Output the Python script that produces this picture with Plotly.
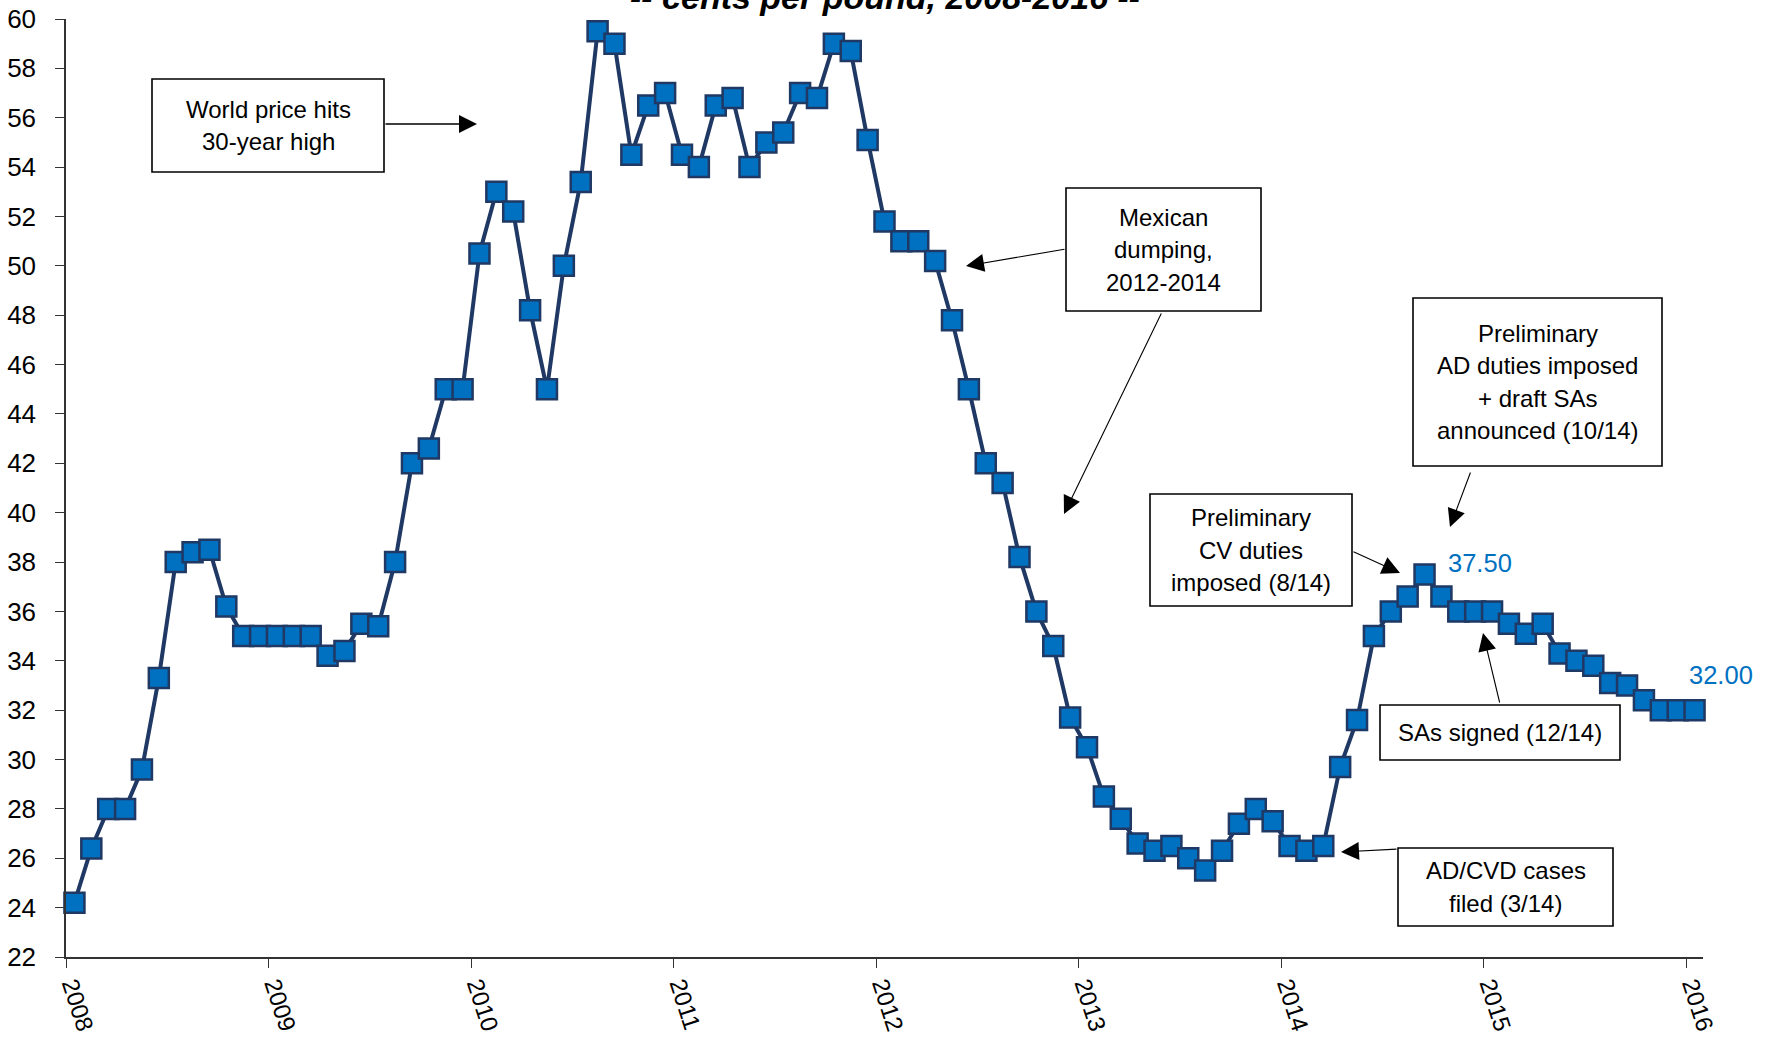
import plotly.graph_objects as go

# Monthly price, cents per pound (Jan 2008 - Jan 2016)
years = ["2008", "2009", "2010", "2011", "2012", "2013", "2014", "2015", "2016"]
price_2008 = [24.2, 26.4, 28.0, 28.0, 29.6, 33.3, 38.0, 38.4, 38.5, 36.2, 35.0, 35.0]
price_2009 = [35.0, 35.0, 35.0, 34.2, 34.4, 35.5, 35.4, 38.0, 42.0, 42.6, 45.0, 45.0]
price_2010 = [50.5, 53.0, 52.2, 48.2, 45.0, 50.0, 53.4, 59.5, 59.0, 54.5, 56.5, 57.0]
price_2011 = [54.5, 54.0, 56.5, 56.8, 54.0, 55.0, 55.4, 57.0, 56.8, 59.0, 58.7, 55.1]
price_2012 = [51.8, 51.0, 51.0, 50.2, 47.8, 45.0, 42.0, 41.2, 38.2, 36.0, 34.6, 31.7]
price_2013 = [30.5, 28.5, 27.6, 26.6, 26.3, 26.5, 26.0, 25.5, 26.3, 27.4, 28.0, 27.5]
price_2014 = [26.5, 26.3, 26.5, 29.7, 31.6, 35.0, 36.0, 36.6, 37.5, 36.6, 36.0, 36.0]
price_2015 = [36.0, 35.5, 35.1, 35.5, 34.3, 34.0, 33.8, 33.1, 33.0, 32.4, 32.0, 32.0]
price_2016 = [32.0]

# Points that carry a value label: (year, month number)
labeled_points = [("2014", 9), ("2016", 1)]

prices = (price_2008 + price_2009 + price_2010 + price_2011 + price_2012
          + price_2013 + price_2014 + price_2015 + price_2016)
n = len(prices)
# category axis: each month sits in the middle of its slot
xpos = [i + 0.5 for i in range(n)]

W, H = 1767, 1039
L, R, T, B = 66, 64, 19, 82
PW, PH = W - L - R, H - T - B

def px(xp):
    return (xp - L) / PW

def py(yp):
    return (H - B - yp) / PH

NAVY = "#1F3864"
BLUE = "#0070C0"
FONT = "Liberation Sans, Arial, sans-serif"

fig = go.Figure()
fig.add_trace(go.Scatter(
    x=xpos, y=prices, mode="lines+markers",
    line=dict(color=NAVY, width=4),
    marker=dict(symbol="square", size=20, color=BLUE,
                line=dict(color=NAVY, width=2.5)),
    cliponaxis=False, showlegend=False, hoverinfo="skip",
))

annotations = []
shapes = []

# value labels
for yr, mo in labeled_points:
    idx = years.index(yr) * 12 + (mo - 1)
    v = prices[idx]
    last = idx == n - 1
    annotations.append(dict(
        x=xpos[idx], y=v, xref="x", yref="y", text=f"{v:.2f}",
        showarrow=False, xanchor="left", yanchor="middle",
        xshift=-8 if last else 21, yshift=35 if last else 11,
        font=dict(family=FONT, size=25.5, color=BLUE),
    ))

# callout boxes: (left, top, right, bottom, lines)
boxes = [
    (152, 79, 384, 172, ["World price hits", "30-year high"]),
    (1066, 188, 1261, 311, ["Mexican", "dumping,", "2012-2014"]),
    (1413, 298, 1662, 466, ["Preliminary", "AD duties imposed", "+ draft SAs", "announced (10/14)"]),
    (1150, 494, 1352, 606, ["Preliminary", "CV duties", "imposed (8/14)"]),
    (1380, 705, 1620, 760, ["SAs signed (12/14)"]),
    (1398, 848, 1613, 926, ["AD/CVD cases", "filed (3/14)"]),
]
LINE_GAP = 32.5
for x0, y0, x1, y1, lines in boxes:
    shapes.append(dict(
        type="rect", xref="paper", yref="paper",
        x0=px(x0), x1=px(x1), y0=py(y1), y1=py(y0),
        fillcolor="white", line=dict(color="black", width=1.6), layer="above",
    ))
    cy = (y0 + y1) / 2
    for k, line in enumerate(lines):
        ly = cy + (k - (len(lines) - 1) / 2) * LINE_GAP
        annotations.append(dict(
            x=px((x0 + x1) / 2), y=py(ly), xref="paper", yref="paper",
            text=line, showarrow=False, xanchor="center", yanchor="middle",
            font=dict(family=FONT, size=24, color="black"),
        ))

# callout arrows: (tail x, tail y, head x, head y, line width)
arrows = [
    (384, 124, 477, 124, 1.4),
    (1066, 249, 966, 266, 1.1),
    (1162, 312, 1064, 514, 1.1),
    (1471, 471, 1450, 527, 1.1),
    (1352, 551, 1400, 573, 1.1),
    (1500, 704, 1483, 633, 1.1),
    (1398, 849, 1341, 852, 1.1),
]
for tx, ty, hx, hy, lw in arrows:
    annotations.append(dict(
        x=px(hx), y=py(hy), xref="paper", yref="paper", text="",
        showarrow=True, ax=tx - hx, ay=ty - hy,
        arrowhead=2, arrowsize=3.6 / lw, arrowwidth=lw,
        arrowcolor="black", standoff=0,
    ))

# subtitle, partly running off the top of the page
annotations.append(dict(
    x=0.5, y=py(18), xref="paper", yref="paper",
    text="-- cents per pound, 2008-2016 --", showarrow=False,
    xanchor="center", yanchor="bottom",
    font=dict(family=FONT, size=34, color="black", weight="bold", style="italic"),
))

fig.update_layout(
    width=W, height=H, template="none",
    margin=dict(l=L, r=R, t=T, b=B),
    paper_bgcolor="white", plot_bgcolor="white",
    annotations=annotations, shapes=shapes,
    font=dict(family=FONT, color="black"),
)
fig.update_xaxes(
    range=[0, n], tickvals=[12 * i for i in range(len(years))], ticktext=years,
    tickangle=72, ticks="outside", ticklen=9, tickwidth=1.3, tickcolor="#333",
    showline=True, linecolor="#333", linewidth=1.5, showgrid=False, zeroline=False,
    tickfont=dict(family=FONT, size=24, color="black"), automargin=False,
    ticklabelstandoff=-6, ticklabelshift=7,
)
fig.update_yaxes(
    range=[22, 60], dtick=2, tick0=22, ticks="outside", ticklen=9, tickwidth=1.3,
    tickcolor="#333", showline=True, linecolor="#333", linewidth=1.5,
    showgrid=False, zeroline=False, automargin=False,
    tickfont=dict(family=FONT, size=26, color="black"), ticklabelstandoff=14,
)

fig.write_html("out.html")
